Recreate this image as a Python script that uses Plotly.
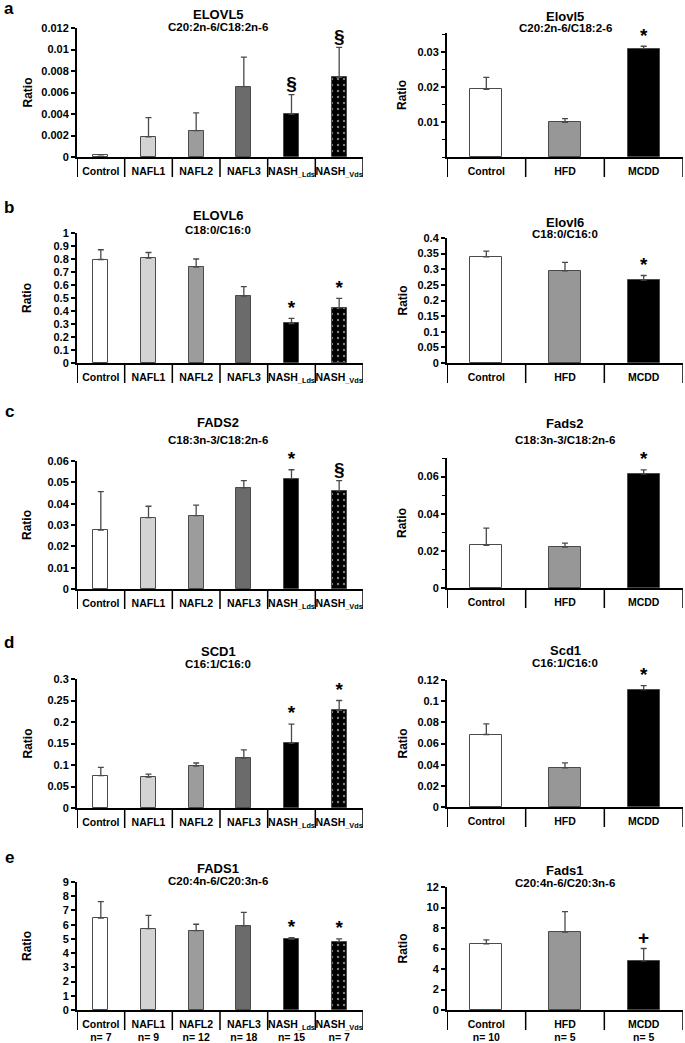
import plotly.graph_objects as go

W, H = 685, 1043
FONT = "Liberation Sans, Arial, sans-serif"

# ---------------- data ----------------
human_groups = ["Control", "NAFL1", "NAFL2", "NAFL3", "NASH<sub>_Lds</sub>", "NASH<sub>_Vds</sub>"]
human_n = ["n= 7", "n= 9", "n= 12", "n= 18", "n= 15", "n= 7"]
mouse_groups = ["Control", "HFD", "MCDD"]
mouse_n = ["n= 10", "n= 5", "n= 5"]

# ELOVL5  C20:2n-6/C18:2n-6
elovl5_h = [0.0002, 0.00187, 0.00246, 0.00655, 0.0040, 0.0074]
elovl5_h_err = [0.0, 0.0018, 0.00164, 0.00275, 0.0018, 0.0028]
elovl5_h_sig = ["", "", "", "", "§", "§"]
elovl5_m = [0.0194, 0.0099, 0.0310]
elovl5_m_err = [0.0034, 0.0011, 0.0007]
elovl5_m_sig = ["", "", "*"]

# ELOVL6  C18:0/C16:0
elovl6_h = [0.796, 0.807, 0.737, 0.515, 0.304, 0.425]
elovl6_h_err = [0.075, 0.043, 0.063, 0.073, 0.039, 0.072]
elovl6_h_sig = ["", "", "", "", "*", "*"]
elovl6_m = [0.340, 0.295, 0.265]
elovl6_m_err = [0.018, 0.027, 0.015]
elovl6_m_sig = ["", "", "*"]

# FADS2  C18:3n-3/C18:2n-6
fads2_h = [0.0276, 0.0335, 0.0344, 0.0474, 0.0517, 0.0460]
fads2_h_err = [0.0180, 0.0053, 0.0049, 0.0034, 0.0042, 0.0048]
fads2_h_sig = ["", "", "", "", "*", "§"]
fads2_m = [0.0229, 0.0220, 0.0615]
fads2_m_err = [0.0093, 0.0022, 0.0021]
fads2_m_sig = ["", "", "*"]

# SCD1  C16:1/C16:0
scd1_h = [0.0752, 0.0720, 0.0977, 0.1160, 0.1510, 0.2270]
scd1_h_err = [0.0194, 0.0070, 0.0070, 0.0190, 0.0440, 0.0230]
scd1_h_sig = ["", "", "", "", "*", "*"]
scd1_m = [0.0685, 0.0370, 0.1110]
scd1_m_err = [0.0101, 0.0047, 0.0036]
scd1_m_sig = ["", "", "*"]

# FADS1  C20:4n-6/C20:3n-6
fads1_h = [6.47, 5.72, 5.58, 5.91, 4.98, 4.81]
fads1_h_err = [1.15, 0.94, 0.45, 0.96, 0.11, 0.19]
fads1_h_sig = ["", "", "", "", "*", "*"]
fads1_m = [6.45, 7.60, 4.80]
fads1_m_err = [0.40, 2.00, 1.20]
fads1_m_sig = ["", "", "+"]

human_colors = ["white", "#d3d3d3", "#9c9c9c", "#6b6b6b", "black", "black"]
human_pattern = ["", "", "", "", "", "."]
mouse_colors = ["white", "#979797", "black"]
mouse_pattern = ["", "", ""]

# ---------------- panel layout (pixels) ----------------
LEFT_X = (77, 363)
RIGHT_X = (447, 683)

panels = [
    dict(side="L", letter="a", title="ELOVL5", sub="C20:2n-6/C18:2n-6", vals=elovl5_h, errs=elovl5_h_err, sigs=elovl5_h_sig,
         top=28, zero=157, yr=[0, 0.012], dtick=0.002, ty=(15, 27), ly=8),
    dict(side="R", title="Elovl5", sub="C20:2n-6/C18:2-6", vals=elovl5_m, errs=elovl5_m_err, sigs=elovl5_m_sig,
         top=33, zero=157, yr=[0, 0.0355], tickvals=[0.01, 0.02, 0.03], minor=0.005, ty=(16, 28)),
    dict(side="L", letter="b", title="ELOVL6", sub="C18:0/C16:0", vals=elovl6_h, errs=elovl6_h_err, sigs=elovl6_h_sig,
         top=233, zero=363, yr=[0, 1], dtick=0.1, ty=(215, 230), ly=207),
    dict(side="R", title="Elovl6", sub="C18:0/C16:0", vals=elovl6_m, errs=elovl6_m_err, sigs=elovl6_m_sig,
         top=238, zero=363, yr=[0, 0.4], dtick=0.05, ty=(222, 234)),
    dict(side="L", letter="c", title="FADS2", sub="C18:3n-3/C18:2n-6", vals=fads2_h, errs=fads2_h_err, sigs=fads2_h_sig,
         top=461, zero=589, yr=[0, 0.06], dtick=0.01, ty=(422, 440), ly=412),
    dict(side="R", title="Fads2", sub="C18:3n-3/C18:2n-6", vals=fads2_m, errs=fads2_m_err, sigs=fads2_m_sig,
         top=458, zero=588, yr=[0, 0.07], dtick=0.02, minor=0.01, ty=(423, 440)),
    dict(side="L", letter="d", title="SCD1", sub="C16:1/C16:0", vals=scd1_h, errs=scd1_h_err, sigs=scd1_h_sig,
         top=679, zero=808, yr=[0, 0.3], dtick=0.05, ty=(651, 664), ly=642),
    dict(side="R", title="Scd1", sub="C16:1/C16:0", vals=scd1_m, errs=scd1_m_err, sigs=scd1_m_sig,
         top=680, zero=807, yr=[0, 0.12], dtick=0.02, ty=(650, 663)),
    dict(side="L", letter="e", title="FADS1", sub="C20:4n-6/C20:3n-6", vals=fads1_h, errs=fads1_h_err, sigs=fads1_h_sig,
         top=882, zero=1010, yr=[0, 9], dtick=1, ty=(868, 881), ly=857, nlab=human_n),
    dict(side="R", title="Fads1", sub="C20:4n-6/C20:3n-6", vals=fads1_m, errs=fads1_m_err, sigs=fads1_m_sig,
         top=887, zero=1010, yr=[0, 12], dtick=2, ty=(870, 883), nlab=mouse_n),
]


def px(x):
    return x / W


def py(y):
    return 1 - y / H


def label(x, y, text, size, angle=0):
    return dict(x=px(x), y=py(y), xref="paper", yref="paper", text=text, textangle=angle,
                xanchor="center", yanchor="middle", showarrow=False,
                font=dict(family=FONT, size=size, color="black", weight="bold"))


fig = go.Figure()
layout = {}
shapes = []
annotations = []

for k, p in enumerate(panels, start=1):
    left = p["side"] == "L"
    groups = human_groups if left else mouse_groups
    colors = human_colors if left else mouse_colors
    pattern = human_pattern if left else mouse_pattern
    xr = LEFT_X if left else RIGHT_X
    n = len(groups)
    idx = list(range(n))
    sfx = "" if k == 1 else str(k)
    xa, ya = "x" + sfx, "y" + sfx

    fig.add_trace(go.Bar(
        x=idx, y=p["vals"], xaxis=xa, yaxis=ya, width=0.32 if left else 0.41,
        marker=dict(color=colors, line=dict(color="#4a4a4a", width=1),
                    pattern=dict(shape=pattern, fgcolor="white", bgcolor="black", size=6, solidity=0.12)),
        error_y=dict(type="data", symmetric=False, array=p["errs"], arrayminus=[0] * n,
                     color="#4a4a4a", thickness=1.3, width=3),
        showlegend=False, hoverinfo="skip",
    ))
    # significance marks above the error bars
    marked = [i for i, s in enumerate(p["sigs"]) if s]
    fig.add_trace(go.Scatter(
        x=marked, y=[p["vals"][i] + p["errs"][i] for i in marked], xaxis=xa, yaxis=ya,
        mode="text", text=[p["sigs"][i] for i in marked],
        textposition="top center", cliponaxis=False,
        textfont=dict(family=FONT, size=19, color="black", weight="bold"),
        showlegend=False, hoverinfo="skip",
    ))

    ticktext = groups if "nlab" not in p else [f"{g}<br>{m}" for g, m in zip(groups, p["nlab"])]
    dom_h = p["zero"] - p["top"]
    layout["xaxis" + sfx] = dict(
        domain=[px(xr[0]), px(xr[1])], anchor=ya, range=[-0.5, n - 0.5], automargin=False,
        tickvals=idx, ticktext=ticktext, tickangle=0,
        ticks="outside", ticklen=3, tickcolor="rgba(0,0,0,0)",
        tickfont=dict(family=FONT, size=10.5, color="black", weight="bold"),
        showline=True, linecolor="black", linewidth=2, showgrid=False, zeroline=False, fixedrange=True,
    )
    yax = dict(
        domain=[py(p["zero"]), py(p["top"])], anchor=xa, range=p["yr"], automargin=False,
        ticks="outside", ticklen=4, tickwidth=1.5, tickcolor="black",
        tickfont=dict(family=FONT, size=11, color="black", weight="bold"),
        showline=True, linecolor="black", linewidth=2, showgrid=False, zeroline=False, fixedrange=True,
    )
    if "tickvals" in p:
        yax["tickvals"] = p["tickvals"]
    else:
        yax["dtick"] = p["dtick"]
        yax["tick0"] = 0
    if "minor" in p:
        yax["minor"] = dict(dtick=p["minor"], tick0=0, ticks="outside", ticklen=3, tickwidth=1.2, tickcolor="black")
    layout["yaxis" + sfx] = yax

    # category divider lines below the x axis
    div_len = 20
    for i in range(n + 1):
        shapes.append(dict(type="line", xref=xa, yref=ya + " domain",
                           x0=i - 0.5, x1=i - 0.5, y0=0, y1=-div_len / dom_h,
                           line=dict(color="black", width=2 if i == 0 else 1.5)))

    cx = 218 if left else 565
    annotations.append(label(cx, p["ty"][0], p["title"], 13))
    annotations.append(label(cx, p["ty"][1], p["sub"], 11.5))
    annotations.append(label(27 if left else 402, (p["top"] + p["zero"]) / 2, "Ratio", 12, -90))
    if left:
        annotations.append(label(9, p["ly"], p["letter"], 17))

fig.update_layout(
    width=W, height=H, margin=dict(l=0, r=0, t=0, b=0, autoexpand=False),
    paper_bgcolor="white", plot_bgcolor="white",
    font=dict(family=FONT, color="black"),
    shapes=shapes, annotations=annotations, bargap=0, showlegend=False,
    **layout,
)

# the page body has a default 8px margin; drop it so the figure fills the window
fig.write_html("out.html", config={"displayModeBar": False},
               post_script="document.body.style.margin = '0';")
